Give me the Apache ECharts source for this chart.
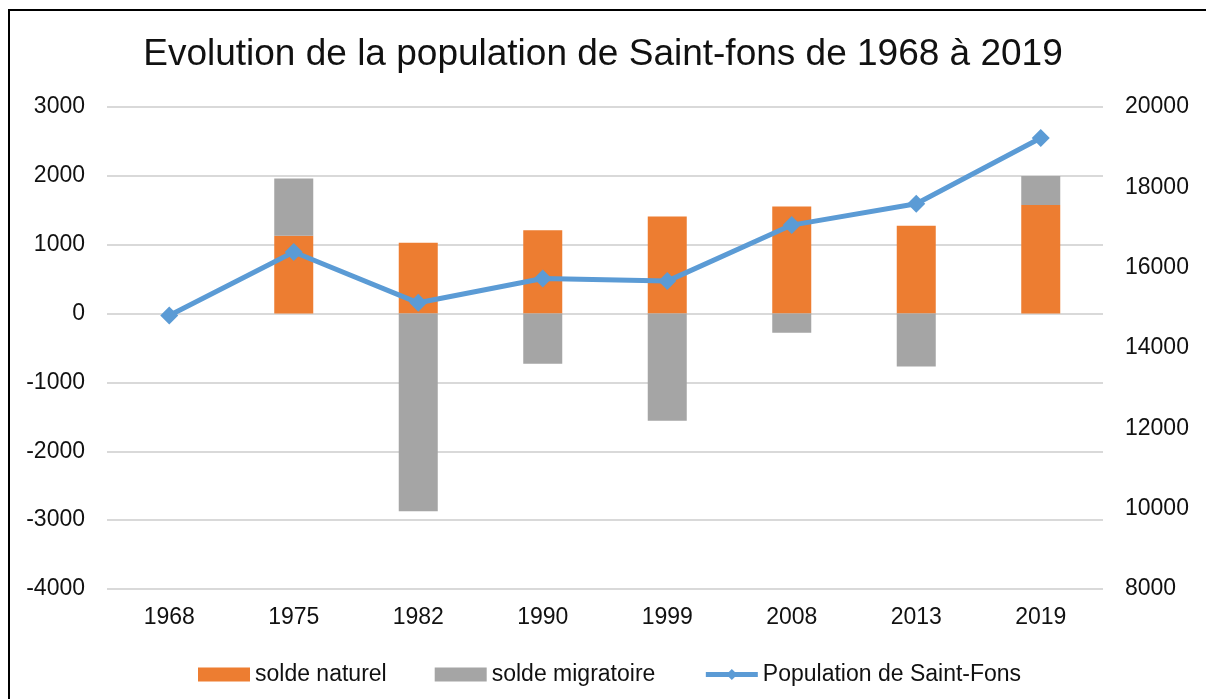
<!DOCTYPE html>
<html>
<head>
<meta charset="utf-8">
<script src="https://cdn.jsdelivr.net/npm/echarts@6/dist/echarts.min.js"></script>
<style>
  html, body { margin: 0; padding: 0; background: #fff; }
  #chart { width: 1206px; height: 699px; }
</style>
</head>
<body>
<div id="chart"></div>
<script>
// years on the x axis
const years = ['1968', '1975', '1982', '1990', '1999', '2008', '2013', '2019'];
// left axis (soldes)
const soldeNaturel = [null, 1130, 1030, 1210, 1410, 1555, 1275, 1578];
const soldeMigratoire = [null, 830, -2870, -730, -1555, -280, -770, 420];
// right axis (population)
const population = [14810, 16390, 15125, 15730, 15665, 17060, 17590, 19230];

const FONT = 'Liberation Sans';
const chart = echarts.init(document.getElementById('chart'));

const plain = v => String(v);

chart.setOption({
    animation: false,
    textStyle: { fontFamily: FONT },
    title: {
        text: 'Evolution de la population de Saint-fons de 1968 à 2019',
        left: 'center',
        top: 31,
        textStyle: { fontFamily: FONT, fontSize: 37, fontWeight: 'normal', color: '#111' }
    },
    graphic: [{
        type: 'rect',
        shape: { x: 9, y: 10, width: 1300, height: 800 },
        style: { fill: 'none', stroke: '#000', lineWidth: 2 },
        silent: true
    }],
    legend: {
        left: 193,
        top: 658,
        itemWidth: 52,
        itemHeight: 14,
        itemGap: 48,
        textStyle: { fontFamily: FONT, fontSize: 23, color: '#111' },
        data: [
            { name: 'solde naturel', icon: 'rect' },
            { name: 'solde migratoire', icon: 'rect' },
            { name: 'Population de Saint-Fons', lineStyle: { width: 5 }, itemStyle: { color: '#5b9bd5' } }
        ]
    },
    grid: {
        left: 107,
        right: 103,
        top: 107,
        bottom: 110
    },
    xAxis: {
        type: 'category',
        data: years,
        axisLine: { show: false },
        axisTick: { show: false },
        axisLabel: { fontFamily: FONT, fontSize: 23, color: '#111', margin: 17 }
    },
    yAxis: [
        {
            type: 'value',
            min: -4000,
            max: 3000,
            interval: 1000,
            axisLine: { show: false },
            axisTick: { show: false },
            axisLabel: { fontFamily: FONT, fontSize: 23, color: '#111', margin: 22, formatter: plain },
            splitLine: { lineStyle: { color: '#d9d9d9', width: 2 } }
        },
        {
            type: 'value',
            min: 8000,
            max: 20000,
            interval: 2000,
            axisLine: { show: false },
            axisTick: { show: false },
            axisLabel: { fontFamily: FONT, fontSize: 23, color: '#111', margin: 22, formatter: plain },
            splitLine: { show: false }
        }
    ],
    series: [
        {
            name: 'solde naturel',
            type: 'bar',
            stack: 'solde',
            barWidth: 39,
            itemStyle: { color: '#ed7d31' },
            data: soldeNaturel
        },
        {
            name: 'solde migratoire',
            type: 'bar',
            stack: 'solde',
            barWidth: 39,
            itemStyle: { color: '#a5a5a5' },
            data: soldeMigratoire
        },
        {
            name: 'Population de Saint-Fons',
            type: 'line',
            yAxisIndex: 1,
            symbol: 'diamond',
            symbolSize: 18,
            lineStyle: { color: '#5b9bd5', width: 5 },
            itemStyle: { color: '#5b9bd5' },
            z: 5,
            data: population
        }
    ]
});
</script>
</body>
</html>
